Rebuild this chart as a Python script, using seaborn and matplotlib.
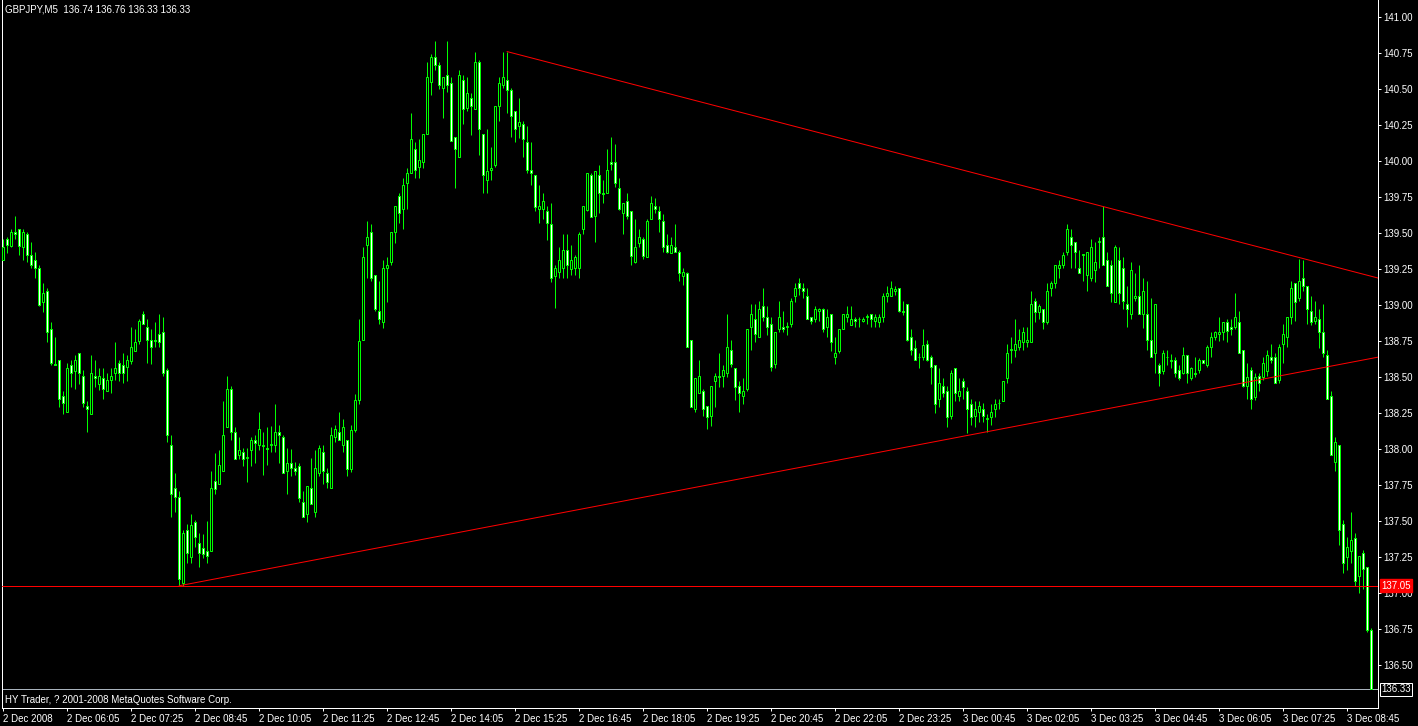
import numpy as np
import pandas as pd
import matplotlib
matplotlib.use("Agg")
import matplotlib.pyplot as plt
import seaborn as sns

# ---------------- data (GBPJPY M5, 2 Dec 2008 04:45 -> 3 Dec 2008 09:15) ----------------
opens = [139.31,139.46,139.41,139.51,139.53,139.40,139.49,139.35,139.31,139.26,
139.02,139.10,138.83,138.59,138.62,138.37,138.26,138.58,138.54,138.67,
138.51,138.30,138.24,138.51,138.45,138.49,138.40,138.48,138.53,138.60,
138.58,138.57,138.61,138.68,138.75,138.94,138.85,138.76,138.76,138.80,
138.81,138.55,138.03,137.73,137.67,137.07,137.44,137.25,137.49,137.35,
137.31,137.29,137.29,137.78,137.76,137.85,138.15,138.42,138.12,137.96,
137.98,137.94,137.99,138.06,138.03,138.02,138.01,138.03,138.03,138.12,
138.08,137.85,137.90,137.87,137.88,137.63,137.55,137.73,137.56,137.83,
137.98,137.83,137.73,138.08,138.12,138.03,138.06,137.86,138.13,138.34,
138.76,139.42,139.51,139.21,138.96,138.88,139.26,139.30,139.51,139.76,
139.67,139.85,139.92,140.08,139.96,139.99,140.19,140.55,140.72,140.67,
140.51,140.60,140.54,140.17,140.03,140.56,140.37,140.44,140.36,140.69,
140.19,139.87,139.94,139.97,140.38,140.53,140.56,140.49,140.35,140.24,
140.26,140.13,139.94,139.90,139.67,139.67,139.65,139.56,139.20,139.23,
139.26,139.38,139.25,139.26,139.26,139.53,139.66,139.90,139.62,139.90,
139.78,139.78,139.99,139.99,139.81,139.64,139.72,139.65,139.30,139.43,
139.46,139.33,139.60,139.69,139.65,139.58,139.42,139.36,139.40,139.37,
139.20,139.22,138.76,138.28,138.39,138.40,138.30,138.23,138.47,138.51,
138.51,138.53,138.69,138.56,138.44,138.37,138.42,138.85,138.90,138.78,
138.99,138.92,138.87,138.59,138.83,138.85,138.85,138.87,139.06,139.15,
139.12,139.06,138.92,138.90,138.96,138.97,138.85,138.94,138.64,138.68,
138.83,138.92,138.86,138.90,138.90,138.89,138.92,138.94,138.89,138.88,
138.92,139.06,139.06,139.10,139.12,138.96,139.01,138.78,138.70,138.64,
138.64,138.73,138.64,138.58,138.35,138.44,138.40,138.23,138.56,138.37,
138.47,138.40,138.31,138.23,138.26,138.28,138.21,138.22,138.28,138.32,
138.33,138.49,138.69,138.69,138.71,138.74,138.74,138.74,139.03,138.95,
138.97,138.88,139.12,139.15,139.26,139.28,139.37,139.47,139.44,139.26,
139.35,139.21,139.19,139.24,139.44,139.47,139.31,139.28,139.02,139.31,
139.26,139.01,138.94,139.05,139.06,138.94,138.94,138.76,138.67,138.58,
138.54,138.64,138.61,138.62,138.55,138.53,138.65,138.49,138.53,138.55,
138.62,138.58,138.71,138.78,138.80,138.81,138.88,138.85,138.85,138.88,
138.69,138.44,138.55,138.36,138.51,138.50,138.54,138.64,138.64,138.48,
138.73,138.78,138.92,139.15,139.05,139.19,139.13,138.96,138.89,138.90,
138.81,138.65,138.37,137.91,138.03,137.48,137.25,137.29,137.38,137.12,
137.28,137.18,136.74]

closes = [139.40,139.42,139.51,139.49,139.41,139.51,139.35,139.28,139.26,139.00,
139.08,138.81,138.60,138.58,138.35,138.32,138.56,138.53,138.62,138.53,
138.32,138.28,138.53,138.49,138.51,138.42,138.48,138.51,138.56,138.53,
138.53,138.62,138.71,138.74,138.89,138.87,138.76,138.71,138.75,138.74,
138.53,138.10,137.69,137.67,137.10,137.42,137.28,137.47,137.39,137.28,
137.27,137.26,137.73,137.72,137.89,138.10,138.42,138.12,137.93,137.99,
137.93,137.94,138.06,138.04,138.14,138.03,138.00,138.03,138.12,138.10,
137.83,137.90,137.87,137.85,137.66,137.53,137.74,137.62,137.87,138.01,
137.85,137.77,138.10,138.14,138.06,138.15,137.86,138.13,138.34,138.75,
139.33,139.47,139.19,138.97,138.90,139.26,139.28,139.51,139.69,139.64,
139.83,139.92,140.15,139.94,140.01,140.19,140.58,140.72,140.67,140.53,
140.58,140.53,140.14,140.08,140.60,140.36,140.47,140.38,140.69,140.22,
139.90,139.93,139.95,140.38,140.54,140.58,140.49,140.31,140.22,140.27,
140.15,139.94,139.92,139.68,139.69,139.72,139.57,139.19,139.26,139.31,
139.38,139.28,139.31,139.33,139.49,139.69,139.92,139.61,139.93,139.78,
139.77,139.94,139.98,139.85,139.67,139.71,139.62,139.34,139.40,139.47,
139.34,139.58,139.71,139.67,139.60,139.40,139.37,139.42,139.37,139.22,
139.23,138.71,138.29,138.49,138.51,138.28,138.22,138.44,138.51,138.50,
138.55,138.71,138.59,138.43,138.39,138.40,138.83,138.94,138.80,138.97,
138.92,138.85,138.57,138.81,138.92,138.83,138.85,139.03,139.12,139.12,
139.10,138.90,138.89,138.97,138.97,138.83,138.92,138.74,138.67,138.83,
138.94,138.94,138.90,138.89,138.90,138.90,138.92,138.90,138.92,138.92,
139.06,139.08,139.12,139.11,138.96,138.95,138.76,138.69,138.62,138.64,
138.72,138.62,138.57,138.31,138.46,138.39,138.22,138.53,138.39,138.40,
138.43,138.28,138.22,138.28,138.30,138.23,138.21,138.26,138.31,138.32,
138.47,138.67,138.69,138.73,138.76,138.81,138.76,139.01,138.95,138.99,
138.88,139.10,139.15,139.28,139.28,139.35,139.53,139.42,139.37,139.22,
139.35,139.37,139.40,139.30,139.44,139.28,139.13,139.08,139.40,139.08,
139.03,138.97,139.24,139.06,138.94,139.10,138.76,138.64,139.01,138.53,
138.67,138.64,138.62,138.53,138.49,138.65,138.53,138.56,138.52,138.62,
138.60,138.71,138.78,138.81,138.81,138.88,138.82,138.83,138.92,138.67,
138.44,138.50,138.35,138.50,138.46,138.60,138.65,138.62,138.46,138.71,
138.80,138.92,139.12,139.02,139.17,139.13,138.97,138.88,138.92,138.81,
138.67,138.35,137.96,138.05,137.44,137.21,137.32,137.37,137.08,137.26,
137.17,136.74,136.33]

highs = [139.46,139.47,139.53,139.62,139.53,139.53,139.51,139.44,139.37,139.28,
139.15,139.12,138.88,138.78,138.62,138.40,138.60,138.62,138.65,138.67,
138.55,138.33,138.65,138.62,138.56,138.56,138.53,138.56,138.74,138.62,
138.67,138.65,138.85,138.83,138.90,138.96,138.90,138.83,138.88,138.94,
138.92,138.56,138.10,137.83,137.71,137.44,137.48,137.55,137.51,137.42,
137.41,137.50,137.85,137.97,137.99,138.33,138.51,138.44,138.15,138.08,
138.01,138.01,138.08,138.10,138.26,138.12,138.15,138.16,138.31,138.17,
138.10,138.01,138.00,137.91,137.90,137.71,137.74,137.94,137.99,138.03,
138.03,137.87,138.15,138.17,138.26,138.21,138.06,138.17,138.38,138.90,
139.40,139.58,139.56,139.21,139.17,139.31,139.33,139.51,139.69,139.78,
139.88,139.95,140.33,140.13,140.15,140.19,140.69,140.74,140.83,140.69,
140.58,140.83,140.58,140.17,140.63,140.60,140.58,140.47,140.76,140.70,
140.19,140.22,140.10,140.38,140.58,140.76,140.76,140.51,140.35,140.44,
140.28,140.24,140.13,139.90,139.83,139.78,139.69,139.71,139.28,139.40,
139.49,139.49,139.42,139.35,139.51,139.69,139.92,139.92,139.93,139.97,
139.87,140.08,140.17,140.12,139.88,139.71,139.78,139.65,139.60,139.53,
139.47,139.60,139.76,139.74,139.69,139.63,139.49,139.47,139.56,139.38,
139.26,139.23,138.76,138.49,138.62,138.42,138.30,138.44,138.53,138.67,
138.58,138.94,138.76,138.56,138.47,138.49,138.83,139.01,139.01,139.03,
139.12,138.99,138.92,138.81,139.03,138.96,138.88,139.05,139.15,139.19,
139.15,139.12,138.92,138.99,138.98,138.98,138.97,138.94,138.78,138.83,
138.94,138.99,138.99,138.92,138.92,138.92,138.94,138.94,138.94,138.94,
139.08,139.13,139.17,139.13,139.12,139.03,139.01,138.83,138.76,138.67,
138.83,138.76,138.65,138.58,138.56,138.49,138.44,138.55,138.56,138.49,
138.49,138.43,138.35,138.33,138.33,138.32,138.24,138.31,138.35,138.35,
138.47,138.73,138.78,138.90,138.83,138.85,138.85,139.10,139.05,139.01,
138.97,139.15,139.17,139.28,139.31,139.37,139.56,139.53,139.44,139.38,
139.35,139.37,139.46,139.44,139.47,139.69,139.37,139.31,139.42,139.40,
139.33,139.13,139.30,139.22,139.28,139.19,139.17,139.05,139.01,138.60,
138.69,138.69,138.66,138.64,138.58,138.71,138.65,138.57,138.64,138.63,
138.62,138.72,138.81,138.82,138.92,138.88,138.90,138.90,139.08,138.96,
138.69,138.60,138.57,138.53,138.53,138.64,138.69,138.73,138.67,138.73,
138.87,138.92,139.17,139.15,139.32,139.31,139.13,139.06,139.03,138.97,
139.01,138.69,138.40,138.08,138.03,137.51,137.39,137.56,137.42,137.26,
137.30,137.18,136.76]

lows = [139.31,139.36,139.40,139.46,139.35,139.31,139.30,139.26,139.19,138.99,
138.95,138.74,138.58,138.58,138.29,138.24,138.26,138.43,138.42,138.45,
138.29,138.12,138.24,138.43,138.41,138.35,138.40,138.39,138.48,138.47,
138.46,138.47,138.59,138.68,138.73,138.87,138.60,138.59,138.71,138.71,
138.51,138.05,137.53,137.56,137.05,137.05,137.21,137.21,137.32,137.18,
137.24,137.21,137.29,137.69,137.76,137.85,138.15,138.06,137.93,137.93,
137.88,137.77,137.88,137.90,137.99,137.82,137.89,137.98,137.98,137.90,
137.83,137.69,137.81,137.82,137.63,137.53,137.49,137.62,137.53,137.81,
137.76,137.73,137.73,138.05,138.06,137.98,137.81,137.84,138.12,138.31,
138.76,139.19,139.17,138.96,138.87,138.84,139.02,139.28,139.43,139.57,
139.53,139.67,139.92,139.88,139.88,139.95,140.19,140.46,140.63,140.50,
140.30,140.48,140.14,139.81,140.03,140.26,140.35,140.18,140.36,140.04,
139.78,139.78,139.87,139.96,140.28,140.51,140.33,140.17,140.13,140.16,
140.03,139.92,139.83,139.65,139.57,139.60,139.45,139.16,138.98,139.19,
139.19,139.19,139.21,139.21,139.19,139.49,139.65,139.61,139.44,139.64,
139.71,139.78,139.94,139.82,139.66,139.49,139.60,139.28,139.29,139.40,
139.32,139.33,139.60,139.64,139.51,139.37,139.36,139.36,139.37,139.17,
139.14,138.71,138.29,138.26,138.39,138.23,138.14,138.16,138.29,138.43,
138.43,138.50,138.57,138.34,138.26,138.31,138.40,138.69,138.74,138.78,
138.89,138.79,138.54,138.56,138.81,138.81,138.79,138.85,139.02,139.07,
139.05,138.90,138.87,138.88,138.89,138.81,138.78,138.68,138.59,138.67,
138.83,138.88,138.86,138.85,138.85,138.88,138.87,138.85,138.85,138.85,
138.88,139.02,139.06,139.07,138.95,138.93,138.75,138.65,138.62,138.56,
138.62,138.61,138.45,138.25,138.29,138.36,138.15,138.21,138.33,138.33,
138.35,138.11,138.17,138.15,138.19,138.19,138.12,138.17,138.22,138.28,
138.33,138.46,138.60,138.64,138.69,138.69,138.71,138.74,138.88,138.90,
138.83,138.87,139.06,139.12,139.19,139.26,139.35,139.26,139.26,139.22,
139.17,139.10,139.17,139.16,139.26,139.28,139.13,139.02,139.02,139.01,
138.97,138.85,138.90,139.03,138.94,138.84,138.69,138.64,138.53,138.44,
138.52,138.58,138.56,138.50,138.48,138.52,138.46,138.48,138.50,138.53,
138.60,138.57,138.64,138.76,138.75,138.76,138.74,138.79,138.83,138.67,
138.43,138.35,138.28,138.34,138.40,138.48,138.51,138.60,138.46,138.46,
138.60,138.71,138.87,138.89,139.03,139.10,138.87,138.86,138.87,138.70,
138.64,138.35,137.96,137.85,137.33,137.14,137.16,137.21,137.05,137.00,
137.03,136.73,136.33]

time_tick_bars = [0, 16, 32, 48, 64, 80, 96, 112, 128, 144, 160, 176, 192, 208,
                  224, 240, 256, 272, 288, 304, 320, 336]
time_tick_labels = ["2 Dec 2008", "2 Dec 06:05", "2 Dec 07:25", "2 Dec 08:45",
                    "2 Dec 10:05", "2 Dec 11:25", "2 Dec 12:45", "2 Dec 14:05",
                    "2 Dec 15:25", "2 Dec 16:45", "2 Dec 18:05", "2 Dec 19:25",
                    "2 Dec 20:45", "2 Dec 22:05", "2 Dec 23:25", "3 Dec 00:45",
                    "3 Dec 02:05", "3 Dec 03:25", "3 Dec 04:45", "3 Dec 06:05",
                    "3 Dec 07:25", "3 Dec 08:45"]
price_ticks = [136.50, 136.75, 137.00, 137.25, 137.50, 137.75, 138.00, 138.25,
               138.50, 138.75, 139.00, 139.25, 139.50, 139.75, 140.00, 140.25,
               140.50, 140.75, 141.00]

upper_trend_bars = [126, 324]
upper_trend_prices = [140.76, 139.33]
lower_trend_bars = [44, 246]
lower_trend_prices = [137.05, 138.12]
support_level = 137.05
bid_price = 136.33
header_text = "GBPJPY,M5  136.74 136.76 136.33 136.33"
footer_text = "HY Trader, ? 2001-2008 MetaQuotes Software Corp."

# ---------------- figure ----------------
sns.set_theme(style="dark", rc={
    "axes.facecolor": "black", "figure.facecolor": "black",
    "axes.edgecolor": "white", "axes.grid": False,
    "xtick.color": "white", "ytick.color": "white",
    "text.color": "white",
})
plt.rcParams["font.family"] = ["Liberation Sans", "DejaVu Sans"]

W, H = 1418, 726
PX = 0.72  # one pixel in points at dpi 100
fig = plt.figure(figsize=(W / 100, H / 100), dpi=100)
ax = fig.add_axes([2 / W, (H - 708) / H, (1378 - 2) / W, 708 / H])
ax.set_facecolor("black")

df = pd.DataFrame({"open": opens, "close": closes, "high": highs, "low": lows})
df["bar"] = np.arange(len(df))
df["high"] = df[["high", "open", "close"]].max(axis=1)
df["low"] = df[["low", "open", "close"]].min(axis=1)
bull = df["close"] >= df["open"]

LIME = "#00FF00"
ax.vlines(df["bar"], df["low"], df["high"], color=LIME, lw=PX, zorder=2)
body_bottom = df[["open", "close"]].min(axis=1)
body_h = (df["close"] - df["open"]).abs().clip(lower=0.002)
ax.bar(df["bar"], body_h, bottom=body_bottom, width=0.5,
       color=np.where(bull, "black", "white"), edgecolor=LIME, linewidth=PX,
       zorder=3)

x_left, x_right = -0.25, 343.75
y_bottom, y_top = 141 - (708 - 17) / 144, 141 + 17 / 144

def ray(bars, prices):
    slope = (prices[1] - prices[0]) / (bars[1] - bars[0])
    return pd.DataFrame({"bar": [bars[0], x_right],
                         "price": [prices[0], prices[0] + slope * (x_right - bars[0])]})

sns.lineplot(data=ray(upper_trend_bars, upper_trend_prices), x="bar", y="price",
             ax=ax, color="#FF0000", lw=PX, zorder=4)
sns.lineplot(data=ray(lower_trend_bars, lower_trend_prices), x="bar", y="price",
             ax=ax, color="#FF0000", lw=PX, zorder=4)
ax.axhline(support_level, color="#FF0000", lw=PX, zorder=4)
ax.axhline(bid_price, color="#A8B2BC", lw=PX, zorder=1)

ax.set_xlim(x_left, x_right)
ax.set_ylim(y_bottom, y_top)
ax.set_xlabel("")
ax.set_ylabel("")

ax.spines["top"].set_visible(False)
for s in ["left", "right", "bottom"]:
    ax.spines[s].set_color("white")
    ax.spines[s].set_linewidth(PX)

ax.yaxis.tick_right()
ax.set_yticks(price_ticks)
ax.set_yticklabels([f"{p:.2f}" for p in price_ticks])
ax.tick_params(axis="y", which="both", direction="out", length=2.2, width=PX,
               pad=1.5, labelsize=7, colors="white", right=True, left=False)
ax.set_xticks(time_tick_bars)
ax.set_xticklabels(time_tick_labels, ha="left")
ax.tick_params(axis="x", direction="out", length=2.5, width=PX, pad=1.5,
               labelsize=7, colors="white", bottom=True)

# price tags on the right scale
ax.text(1.0 + 3 / 1376, support_level, f"{support_level:.2f}", transform=ax.get_yaxis_transform(),
        ha="left", va="center", fontsize=7, color="white", zorder=6,
        bbox=dict(boxstyle="square,pad=0.15", fc="#FF0000", ec="#FF0000"))
ax.text(1.0 + 3 / 1376, bid_price, f"{bid_price:.2f}", transform=ax.get_yaxis_transform(),
        ha="left", va="center", fontsize=7, color="white", zorder=6,
        bbox=dict(boxstyle="square,pad=0.15", fc="black", ec="white", lw=PX))

fig.text(5 / W, 1 - 10 / H, header_text, ha="left", va="center", fontsize=7, color="white")
fig.text(5 / W, 1 - 700 / H, footer_text, ha="left", va="center", fontsize=7, color="white")

fig.savefig("out.png", dpi=100, facecolor="black")
